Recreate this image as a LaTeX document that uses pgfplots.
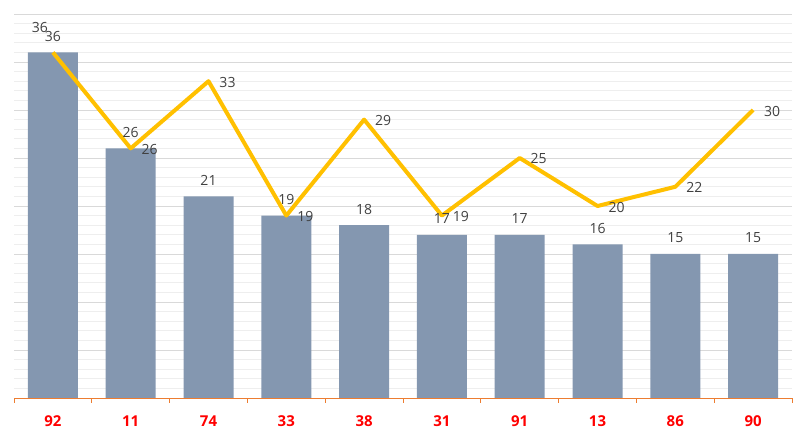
\documentclass[border=0pt]{standalone}
\usepackage{pgfplots}
\pgfplotsset{compat=1.18}
\usepackage{pgfplotstable}
\usepackage{fontspec}
\setmainfont{Open Sans}
\usetikzlibrary{calc}
\definecolor{barc}{HTML}{8497B0}
\definecolor{linec}{HTML}{FFC000}
\definecolor{axc}{HTML}{ED7D31}
\definecolor{lbl}{HTML}{404040}
\definecolor{majg}{HTML}{D9D9D9}
\definecolor{ming}{HTML}{EEEEEE}

\pgfplotstableread{
x bar bdx bdy line ldx ldy
0 36 -13 25 36 0 16
1 26 0 16 26 19 -1
2 21 0 16 33 19 -1
3 19 0 16 19 19 -1
4 18 0 16 29 19 -1
5 17 0 16 19 19 -1
6 17 0 16 25 19 -1
7 16 0 16 20 19 -1
8 15 0 16 22 19 -1
9 15 0 16 30 19 -1
}\data

\begin{document}
\begin{tikzpicture}
\begin{axis}[
  scale only axis,
  width=778pt, height=384pt,
  xmin=-0.5, xmax=9.5,
  ymin=0, ymax=40,
  /pgf/number format/assume math mode=true,
  axis x line*=bottom,
  axis y line*=left,
  y axis line style={draw=none},
  x axis line style={draw=axc, line width=0.8pt, -},
  xtick={0,...,9},
  xticklabels={92,11,74,33,38,31,91,13,86,90},
  minor xtick={-0.5,0.5,...,9.5},
  major x tick style={draw=none},
  minor x tick style={draw=axc, line width=0.8pt},
  minor tick length=5pt,
  tick align=outside,
  xticklabel style={font=\fontsize{15}{17}\selectfont\bfseries, text=red, yshift=-10pt},
  ytick={0,5,...,40},
  minor y tick num=4,
  yticklabels={},
  major y tick style={draw=none},
  minor y tick style={draw=none},
  ymajorgrids, yminorgrids,
  major grid style={draw=majg, line width=0.8pt},
  minor grid style={draw=ming, line width=0.8pt},
  clip=false,
]
\addplot[ybar, bar width=50pt, fill=barc, draw=none,
  visualization depends on={\thisrow{bdx} \as \bdx},
  visualization depends on={\thisrow{bdy} \as \bdy},
  nodes near coords,
  every node near coord/.append style={anchor=center, xshift=\bdx pt, yshift=\bdy pt, font=\fontsize{14}{16}\selectfont, text=lbl, inner sep=0pt}
] table[x=x, y=bar] {\data};
\addplot[draw=linec, line width=4pt, line join=round, mark=none, sharp plot,
  visualization depends on={\thisrow{ldx} \as \ldx},
  visualization depends on={\thisrow{ldy} \as \ldy},
  nodes near coords,
  every node near coord/.append style={anchor=center, xshift=\ldx pt, yshift=\ldy pt, font=\fontsize{14}{16}\selectfont, text=lbl, inner sep=0pt}
] table[x=x, y=line] {\data};
\end{axis}
\path[use as bounding box] ($(current axis.south west)+(-14pt,-40pt)$) rectangle ($(current axis.north east)+(14pt,14pt)$);
\end{tikzpicture}
\end{document}
